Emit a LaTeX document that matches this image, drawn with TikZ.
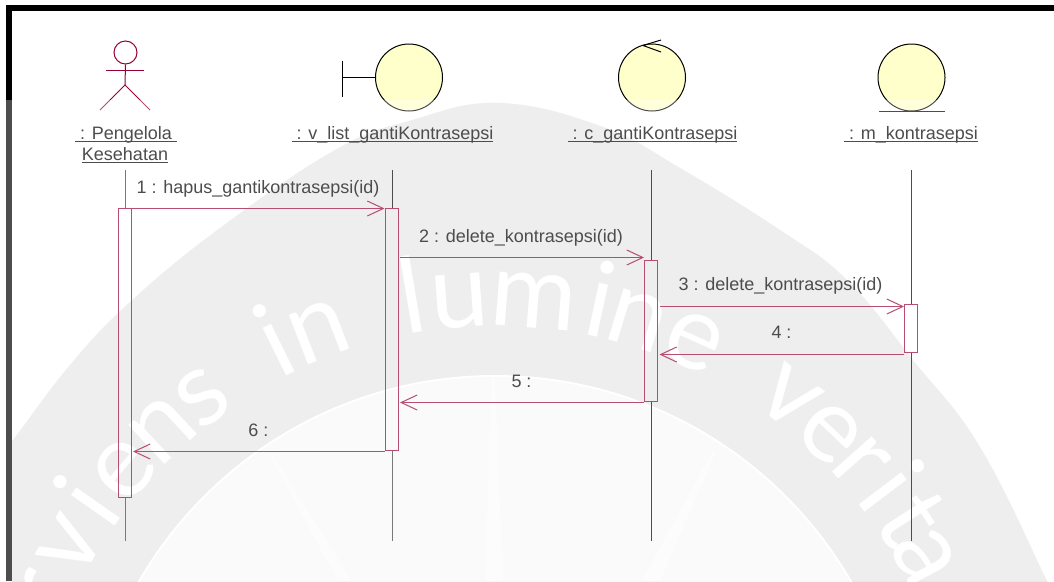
\documentclass[tikz,border=0pt]{standalone}
\usepackage{fontspec}
\setmainfont{Liberation Sans}
\newfontfamily\wmfont{Lato}
\usetikzlibrary{arrows.meta}
\definecolor{rose}{HTML}{990033}
\definecolor{wmgray}{HTML}{E7E7E7}
\definecolor{wminner}{HTML}{F8F8F8}
\definecolor{wmray}{HTML}{FCFCFC}
\definecolor{robust}{HTML}{FFFFCC}
\newcommand{\ulabel}[1]{\setbox0=\hbox{#1}\rlap{\rule[-2.6pt]{\wd0}{1.1pt}}\box0}
\tikzset{
  lbl/.style={font=\fontsize{18}{20}\selectfont,text=black,inner sep=0pt,anchor=base},
  life/.style={line width=1pt,black},
  act/.style={draw=rose,line width=1pt,rectangle,inner sep=0pt,minimum width=13pt},
  msg/.style={rose,line width=1pt,-{Straight Barb[length=16pt,width=15pt,line width=1pt]}},
  robustcirc/.style={draw=black,fill=robust,circle,inner sep=0pt,minimum size=67pt,line width=1pt},
  limb/.style={rose,line width=1pt},
  wmletter/.style={font=\fontsize{105}{105}\selectfont\wmfont,text=white,inner sep=0pt,anchor=base},
}
\begin{document}
\begin{tikzpicture}[x=1pt,y=-1pt]
\useasboundingbox (0,0) rectangle (1054,581);
\fill[white] (0,0) rectangle (1054,581);
% watermark
\begin{scope}
\clip (12,11) rectangle (1054,581);
\fill[wmgray] plot[smooth,tension=0.7] coordinates {(-30,495) (13,440) (70,365) (130,302) (220,228) (335,150) (412,120) (500,103) (603,127) (680,168) (780,230) (847,280) (913,360) (980,447) (1047,581) (1060,610)} -- (1060,620) -- (-30,620) -- cycle;
\fill[wminner,draw=white,line width=2pt] (495,787) circle[radius=411];
\fill[wmray] (269,454) -- (272,454) -- (352,581) -- (338,581) -- cycle;
\fill[wmray] (492,378) -- (495,378) -- (503,581) -- (485,581) -- cycle;
\fill[wmray] (713,450) -- (716,452) -- (660,581) -- (642,581) -- cycle;
\foreach \c/\a [count=\i] in {r/156.8,v/150.4,i/145,e/139.5,n/132.9,s/126.9,i/116.3,n/111.1,l/99.6,u/94.1,m/85.4,i/77.8,n/73,e/65.9,v/52.9,e/46.6,r/41.6,i/37.2,t/32.8,a/28.2}
  \node[wmletter,rotate=\a-90] (wm\i) at ({495+461*cos(\a)},{787-461*sin(\a)}) {\c};
\end{scope}
% frame
\fill[black] (6,5) rectangle (1054,11);
\fill[black] (6,5) rectangle (12,581);
% actor
\node[draw=rose,circle,inner sep=0pt,minimum size=23pt,line width=1pt] (head) at (125.5,52.5) {};
\coordinate (hip) at (125,85);
\coordinate (armL) at (106,70.5);
\coordinate (armR) at (143.5,70.5);
\coordinate (legL) at (100,110);
\coordinate (legR) at (150,110);
\draw[limb] (head.south) -- (hip);
\draw[limb] (armL) -- (armR);
\draw[limb] (legL) -- (hip) -- (legR);
% boundary
\node[robustcirc] (vlist) at (409,77.5) {};
\coordinate (bT) at (342.5,61);
\coordinate (bB) at (342.5,97);
\coordinate (bM) at (342.5,77.5);
\draw[line width=1pt] (bT) -- (bB);
\draw[line width=1pt] (bM) -- (vlist.west);
% control
\node[robustcirc] (ctrl) at (652,77.5) {};
\coordinate (cTip) at (643,45.5);
\coordinate (cA) at (661,40);
\coordinate (cB) at (661,52);
\draw[line width=1pt] (cA) -- (cTip) -- (cB);
% entity
\node[robustcirc] (ent) at (911.5,77.5) {};
\coordinate (eL) at (879,111.5);
\coordinate (eR) at (945,111.5);
\draw[line width=1pt] (eL) -- (eR);
% object labels
\node[lbl] (l1) at (126,139) {\ulabel{\ : Pengelola\ }};
\node[lbl] (l1b) at (125,160.5) {\ulabel{Kesehatan}};
\node[lbl] (l2) at (392.5,139) {\ulabel{\ : v\_list\_gantiKontrasepsi}};
\node[lbl] (l3) at (652.5,139) {\ulabel{\ : c\_gantiKontrasepsi}};
\node[lbl] (l4) at (911,139) {\ulabel{\ : m\_kontrasepsi}};
% activations
\node[act,minimum height=289pt] (a1) at (124.5,353) {};
\node[act,minimum height=242pt] (a2) at (391.5,329.5) {};
\node[act,minimum height=141pt] (a3) at (651,331) {};
\node[act,minimum height=48pt] (a4) at (911,328.5) {};
% lifelines
\coordinate (t1) at (125,170); \coordinate (t2) at (392,170); \coordinate (t3) at (651.5,170); \coordinate (t4) at (911.5,170);
\coordinate (b1) at (125,541); \coordinate (b2) at (392,541); \coordinate (b3) at (651.5,541); \coordinate (b4) at (911.5,541);
\draw[life,black!75] (t1) -- (t1 |- a1.north); \draw[life,black!75] (t1 |- a1.south) -- (b1);
\draw[life] (t2) -- (t2 |- a2.north); \draw[life,black!75] (t2 |- a2.south) -- (b2);
\draw[life] (t3) -- (t3 |- a3.north); \draw[life] (t3 |- a3.south) -- (b3);
\draw[life] (t4) -- (t4 |- a4.north); \draw[life] (t4 |- a4.south) -- (b4);
% messages
\coordinate (y1) at (0,208.5); \coordinate (y2) at (0,257.5); \coordinate (y3) at (0,306.5);
\coordinate (y4) at (0,354.5); \coordinate (y5) at (0,402.5); \coordinate (y6) at (0,451.5);
\draw[msg] (a1.east |- y1) -- (a2.west |- y1);
\draw[msg] ([xshift=1.5pt]a2.east |- y2) -- (a3.west |- y2);
\draw[msg] ([xshift=1.5pt]a3.east |- y3) -- (a4.west |- y3);
\draw[msg] (a4.west |- y4) -- ([xshift=1.5pt]a3.east |- y4);
\draw[msg] (a3.west |- y5) -- ([xshift=1.5pt]a2.east |- y5);
\draw[msg] (a2.west |- y6) -- ([xshift=1.5pt]a1.east |- y6);
% message labels
\node[lbl] (m1) at (258,193) {1 : hapus\_gantikontrasepsi(id)};
\node[lbl] (m2) at (521,242) {2 : delete\_kontrasepsi(id)};
\node[lbl] (m3) at (780.5,290) {3 : delete\_kontrasepsi(id)};
\node[lbl] (m4) at (781.5,338) {4 :};
\node[lbl] (m5) at (521.5,387) {5 :};
\node[lbl] (m6) at (258.5,436) {6 :};
% fade of the scanned lower part
\fill[white,opacity=0.3] (0,100) rectangle (1054,581);
\end{tikzpicture}
\end{document}
